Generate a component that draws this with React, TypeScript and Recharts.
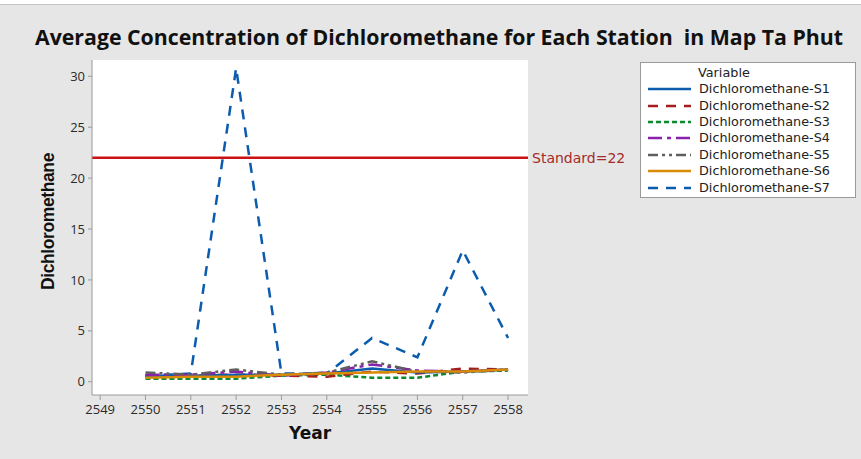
import React from 'react';
import { LineChart, Line, XAxis, YAxis, ReferenceLine, CartesianGrid, Label } from 'recharts';

const years = [2550, 2551, 2552, 2553, 2554, 2555, 2556, 2557, 2558];
const s1 = [0.6, 0.6, 0.7, 0.7, 0.8, 1.3, 0.9, 1.0, 1.2];
const s2 = [0.5, 0.6, 0.7, 0.6, 0.5, 1.0, 0.8, 1.3, 1.2];
const s3 = [0.3, 0.3, 0.3, 0.6, 0.7, 0.4, 0.4, 1.0, 1.1];
const s4 = [0.7, 0.7, 1.0, 0.6, 0.9, 1.7, 1.1, 1.0, 1.2];
const s5 = [0.9, 0.7, 1.2, 0.7, 0.9, 2.0, 1.0, 0.9, 1.2];
const s6 = [0.4, 0.5, 0.5, 0.7, 0.8, 0.9, 1.0, 1.0, 1.2];
const s7 = [0.6, 0.8, 30.8, 0.8, 0.8, 4.3, 2.4, 12.9, 4.3];
const xTicks = [2549, 2550, 2551, 2552, 2553, 2554, 2555, 2556, 2557, 2558];
const yTicks = [0, 5, 10, 15, 20, 25, 30];
const standard = 22;

const data = years.map((y, i) => ({
  year: y, s1: s1[i], s2: s2[i], s3: s3[i], s4: s4[i], s5: s5[i], s6: s6[i], s7: s7[i],
}));

const series = [
  { key: 's1', name: 'Dichloromethane-S1', color: '#0b5cad', dash: undefined as string | undefined },
  { key: 's2', name: 'Dichloromethane-S2', color: '#a51d1d', dash: '10 8' },
  { key: 's3', name: 'Dichloromethane-S3', color: '#0b8a2c', dash: '5 3' },
  { key: 's4', name: 'Dichloromethane-S4', color: '#8a21ad', dash: '14 5 4 5' },
  { key: 's5', name: 'Dichloromethane-S5', color: '#5f5f5f', dash: '10 4 3 4 3 4' },
  { key: 's6', name: 'Dichloromethane-S6', color: '#d98b06', dash: undefined },
  { key: 's7', name: 'Dichloromethane-S7', color: '#0b5cad', dash: '10 8' },
];
const drawOrder = ['s7', 's3', 's2', 's1', 's4', 's5', 's6'];

const font = '"Open Sans", "Noto Sans", sans-serif';
const dejavu = '"DejaVu Sans", Verdana, sans-serif';

const LegendBox = () => (
  <div style={{ position: 'absolute', left: 640, top: 62, width: 216, height: 136, background: '#fff', border: '1px solid #9a9a9a', fontFamily: dejavu, fontSize: 12.8, color: '#222', boxSizing: 'border-box', paddingTop: 1 }}>
    <div style={{ marginLeft: 57, height: 17, lineHeight: '17px' }}>Variable</div>
    {series.map((s) => (
      <div key={s.key} style={{ display: 'flex', alignItems: 'center', height: 16.4 }}>
        <svg width={52} height={10} style={{ marginLeft: 6 }}>
          <line x1={1} y1={5} x2={44} y2={5} stroke={s.color} strokeWidth={2.5} strokeDasharray={s.dash} />
        </svg>
        <span style={{ lineHeight: '16px' }}>{s.name}</span>
      </div>
    ))}
  </div>
);

export default function App() {
  return (
    <div style={{ position: 'absolute', left: 0, top: 0, width: 861, height: 459, background: '#ffffff', overflow: 'hidden' }}>
      <div style={{ position: 'absolute', left: 0, top: 4, width: 861, height: 455, background: '#e6e6e6', borderTop: '1px solid #c4c4c4' }} />
      <div style={{ position: 'absolute', left: 0, top: 22, width: 878, textAlign: 'center', fontFamily: font, fontWeight: 700, fontSize: 21.3, color: '#111', whiteSpace: 'nowrap' }}>
        Average Concentration of Dichloromethane for Each Station&nbsp; in Map Ta Phut
      </div>
      <div style={{ position: 'absolute', left: 0, top: 0 }}>
        <LineChart width={861} height={459} data={data} margin={{ top: 60, right: 333, left: 32, bottom: 24 }}>
          <CartesianGrid horizontal={false} vertical={false} fill="#ffffff" />
          <XAxis
            dataKey="year" type="number" domain={[2548.82, 2558.44]} ticks={xTicks} allowDataOverflow
            height={40} tickSize={5} tickMargin={5}
            stroke="#9a9a9a" tick={{ fill: '#2a2a2a', fontSize: 13, fontFamily: font }}
          >
            <Label
              content={(p: any) => {
                const vb = p.viewBox || {};
                return (
                  <text x={vb.x + vb.width / 2} y={vb.y + 44} textAnchor="middle" fontFamily={dejavu} fontWeight={700} fontSize={17} fill="#111">Year</text>
                );
              }}
            />
          </XAxis>
          <XAxis xAxisId="top" orientation="top" dataKey="year" type="number" domain={[2548.82, 2558.44]} height={0} tick={false} tickLine={false} stroke="#9a9a9a" />
          <YAxis
            type="number" domain={[-1.3, 31.6]} ticks={yTicks} allowDataOverflow width={60}
            tickSize={4} tickMargin={3} stroke="#9a9a9a" tick={{ fill: '#2a2a2a', fontSize: 13, fontFamily: font }}
          >
            <Label
              content={(p: any) => {
                const vb = p.viewBox || {};
                const cx = vb.x + 16;
                const cy = vb.y + vb.height / 2 - 6;
                return (
                  <text x={cx} y={cy} transform={`rotate(-90 ${cx} ${cy})`} textAnchor="middle" dominantBaseline="central" fontFamily='"Liberation Sans", Arial, sans-serif' fontWeight={700} fontSize={17.5} letterSpacing={-0.4} fill="#111">Dichloromethane</text>
                );
              }}
            />
          </YAxis>
          <YAxis yAxisId="right" orientation="right" type="number" domain={[-1.3, 31.6]} width={0} tick={false} tickLine={false} stroke="#9a9a9a" />
          <ReferenceLine
            y={standard} stroke="#cc1111" strokeWidth={2.5} ifOverflow="extendDomain"
            label={{ value: `Standard=${standard}`, position: 'right', fill: '#a52a2a', fontSize: 14, fontFamily: dejavu, offset: 4 }}
          />
          {drawOrder.map((k) => {
            const s = series.find((x) => x.key === k)!;
            return (
              <Line key={k} dataKey={k} name={s.name} stroke={s.color} strokeWidth={2.5} strokeDasharray={s.dash} dot={false} activeDot={false} isAnimationActive={false} type="linear" />
            );
          })}
        </LineChart>
      </div>
      <LegendBox />
    </div>
  );
}
